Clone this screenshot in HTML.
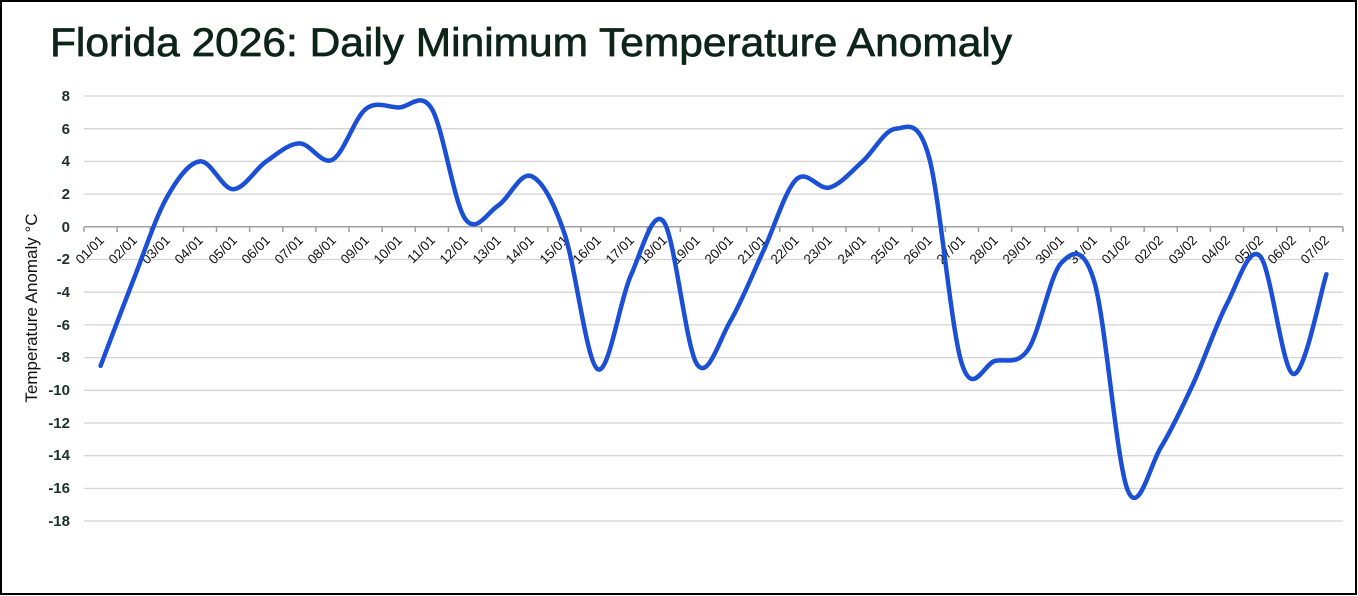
<!DOCTYPE html>
<html><head><meta charset="utf-8"><style>
html,body{margin:0;padding:0;background:#fff}
svg{display:block}
</style></head><body>
<svg id="s" width="1358" height="596" xmlns="http://www.w3.org/2000/svg" font-family="Liberation Sans, sans-serif">
<rect x="1" y="1" width="1355" height="593" fill="#fff" stroke="#000" stroke-width="2"/>
<text x="50" y="56" font-size="40" fill="#0d2418" stroke="#0d2418" stroke-width="0.7" textLength="962" lengthAdjust="spacingAndGlyphs">Florida 2026: Daily Minimum Temperature Anomaly</text>
<g stroke="#d4d4d4" stroke-width="1.3">
<line x1="84" x2="1343" y1="96" y2="96"/><line x1="84" x2="1343" y1="128.7" y2="128.7"/><line x1="84" x2="1343" y1="161.4" y2="161.4"/><line x1="84" x2="1343" y1="194.1" y2="194.1"/>
<line x1="84" x2="1343" y1="259.5" y2="259.5"/><line x1="84" x2="1343" y1="292.2" y2="292.2"/><line x1="84" x2="1343" y1="324.9" y2="324.9"/><line x1="84" x2="1343" y1="357.6" y2="357.6"/><line x1="84" x2="1343" y1="390.3" y2="390.3"/><line x1="84" x2="1343" y1="423" y2="423"/><line x1="84" x2="1343" y1="455.7" y2="455.7"/><line x1="84" x2="1343" y1="488.4" y2="488.4"/><line x1="84" x2="1343" y1="521" y2="521"/>
</g>
<line x1="84" x2="1343" y1="226.8" y2="226.8" stroke="#a0a0a0" stroke-width="1.5"/>
<g id="ticks" stroke="#a0a0a0" stroke-width="1.5"></g>
<g font-size="15" font-weight="bold" fill="#1a3327" text-anchor="end">
<text x="70" y="101">8</text><text x="70" y="134">6</text><text x="70" y="166">4</text><text x="70" y="199">2</text><text x="70" y="232">0</text><text x="70" y="264">-2</text><text x="70" y="297">-4</text><text x="70" y="330">-6</text><text x="70" y="362">-8</text><text x="70" y="395">-10</text><text x="70" y="428">-12</text><text x="70" y="460">-14</text><text x="70" y="493">-16</text><text x="70" y="526">-18</text>
</g>
<text transform="translate(37,308) rotate(-90)" text-anchor="middle" font-size="17" fill="#111">Temperature Anomaly °C</text>
<g id="lbl" font-size="13.5" fill="#111" text-anchor="end">
<text transform="translate(105,241) rotate(-45)">01/01</text><text transform="translate(138,241) rotate(-45)">02/01</text><text transform="translate(171,241) rotate(-45)">03/01</text><text transform="translate(204,241) rotate(-45)">04/01</text><text transform="translate(238,241) rotate(-45)">05/01</text><text transform="translate(271,241) rotate(-45)">06/01</text><text transform="translate(304,241) rotate(-45)">07/01</text><text transform="translate(337,241) rotate(-45)">08/01</text><text transform="translate(370,241) rotate(-45)">09/01</text><text transform="translate(403,241) rotate(-45)">10/01</text><text transform="translate(436,241) rotate(-45)">11/01</text><text transform="translate(469,241) rotate(-45)">12/01</text><text transform="translate(502,241) rotate(-45)">13/01</text><text transform="translate(535,241) rotate(-45)">14/01</text><text transform="translate(569,241) rotate(-45)">15/01</text><text transform="translate(602,241) rotate(-45)">16/01</text><text transform="translate(635,241) rotate(-45)">17/01</text><text transform="translate(668,241) rotate(-45)">18/01</text><text transform="translate(701,241) rotate(-45)">19/01</text><text transform="translate(734,241) rotate(-45)">20/01</text><text transform="translate(767,241) rotate(-45)">21/01</text><text transform="translate(800,241) rotate(-45)">22/01</text><text transform="translate(833,241) rotate(-45)">23/01</text><text transform="translate(867,241) rotate(-45)">24/01</text><text transform="translate(900,241) rotate(-45)">25/01</text><text transform="translate(933,241) rotate(-45)">26/01</text><text transform="translate(966,241) rotate(-45)">27/01</text><text transform="translate(999,241) rotate(-45)">28/01</text><text transform="translate(1032,241) rotate(-45)">29/01</text><text transform="translate(1065,241) rotate(-45)">30/01</text><text transform="translate(1098,241) rotate(-45)">31/01</text><text transform="translate(1131,241) rotate(-45)">01/02</text><text transform="translate(1164,241) rotate(-45)">02/02</text><text transform="translate(1198,241) rotate(-45)">03/02</text><text transform="translate(1231,241) rotate(-45)">04/02</text><text transform="translate(1264,241) rotate(-45)">05/02</text><text transform="translate(1297,241) rotate(-45)">06/02</text><text transform="translate(1330,241) rotate(-45)">07/02</text>
</g>
<path id="ln" fill="none" stroke="#1a4fd6" stroke-width="4.5" stroke-linejoin="round" stroke-linecap="round"/>
</svg>
<script>
var v=[-8.5,-3.2,1.8,4,2.3,4,5.1,4.1,7.2,7.3,7.2,0.5,1.3,3.1,-0.4,-8.7,-3,0.3,-8.4,-5.8,-1.5,2.9,2.4,4,6.0,4.3,-8.4,-8.2,-7.5,-2.2,-3.4,-16.1,-13.5,-9.5,-4.7,-1.8,-9,-2.9];
var X=function(i){return 100.6+i*33.13},Y=function(t){return 226.8-t*16.35};
var p=v.map(function(t,i){return [X(i),Y(t)]});
var d="M"+p[0][0]+","+p[0][1];
for(var i=0;i<p.length-1;i++){var a=p[Math.max(i-1,0)],b=p[i],c=p[i+1],e=p[Math.min(i+2,p.length-1)];
d+=" C"+(b[0]+(c[0]-a[0])/6)+","+(b[1]+(c[1]-a[1])/6)+" "+(c[0]-(e[0]-b[0])/6)+","+(c[1]-(e[1]-b[1])/6)+" "+c[0]+","+c[1];}
document.getElementById("ln").setAttribute("d",d);
var g=document.getElementById("ticks"),h="";
for(var k=0;k<=38;k++){var x=84+k*33.13;h+='<line x1="'+x+'" x2="'+x+'" y1="226.8" y2="232"/>';}
g.innerHTML=h;
</script>
</body></html>
